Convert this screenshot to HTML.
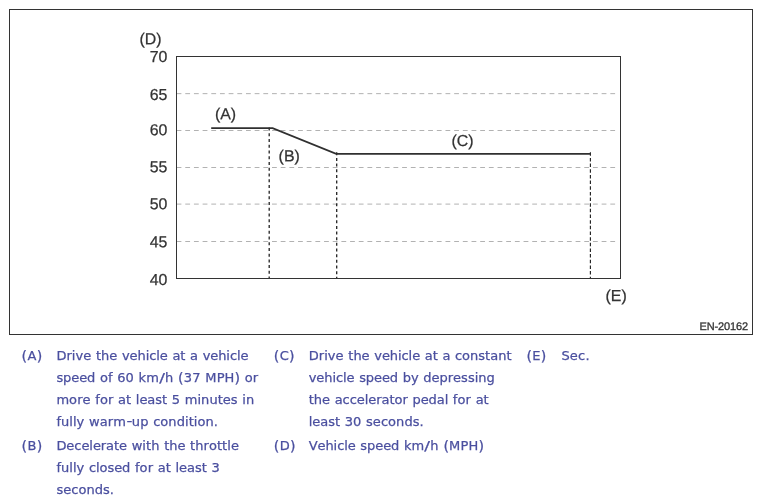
<!DOCTYPE html>
<html lang="en">
<head>
<meta charset="utf-8">
<title>EN-20162</title>
<style>
html,body{margin:0;padding:0;background:#fff;}
body{width:762px;height:503px;position:relative;overflow:hidden;font-family:"Liberation Sans",sans-serif;}
#fig{position:absolute;left:0;top:0;}
.lg{position:absolute;font-family:"DejaVu Sans","Liberation Sans",sans-serif;font-size:13.0px;line-height:22px;color:#4a4f9f;white-space:nowrap;word-spacing:0.482px;-webkit-text-stroke:0.25px #4a4f9f;font-kerning:none;}
.lg i{font-style:normal;font-size:14.2px;line-height:0;position:relative;top:0.7px;}
.lg b{font-weight:normal;display:inline-block;letter-spacing:0;transform:scaleX(1.3);margin:0 0.8px;}
.lg u{text-decoration:none;display:inline-block;letter-spacing:0;transform:translateY(-1px) scaleX(1.25);margin:0 0.6px;}
</style>
</head>
<body>
<svg id="fig" width="762" height="340" viewBox="0 0 762 340" font-family="Liberation Sans, sans-serif" fill="#333">
  <rect x="9.5" y="9.5" width="743" height="325" fill="#fff" stroke="#333" stroke-width="1"/>
  <g stroke="#b2b2b2" stroke-width="1" stroke-dasharray="4.8 3.874" fill="none">
    <path d="M176.6 93.65H616"/>
    <path d="M176.6 130.5H616"/>
    <path d="M176.6 167.5H616"/>
    <path d="M176.6 204.1H616"/>
    <path d="M176.6 241.5H616"/>
  </g>
  <rect x="176.5" y="56.5" width="444" height="222" fill="none" stroke="#333" stroke-width="1"/>
  <g stroke="#222" fill="none">
    <path d="M269.2 127.6V278" stroke-width="1.3" stroke-dasharray="3 2.73"/>
    <path d="M336.7 152.3V278" stroke-width="1.3" stroke-dasharray="3 2.66"/>
    <path d="M590.4 152.3V278" stroke-width="1.15" stroke-dasharray="3.5 2.156"/>
  </g>
  <path d="M211.2 128.15H272.6L336.2 153.8H590.9" fill="none" stroke="#303030" stroke-width="1.65" stroke-linejoin="miter"/>
  <g font-size="15.9px" style="text-rendering:geometricPrecision" stroke="#333" stroke-width="0.25">
    <text transform="translate(139.5 44.3) rotate(.05)">(D)</text>
    <text transform="translate(149.7 62.0) rotate(.05)">70</text>
    <text transform="translate(149.7 100.1) rotate(.05)">65</text>
    <text transform="translate(149.7 135.3) rotate(.05)">60</text>
    <text transform="translate(149.7 172.3) rotate(.05)">55</text>
    <text transform="translate(149.7 209.3) rotate(.05)">50</text>
    <text transform="translate(149.7 247.3) rotate(.05)">45</text>
    <text transform="translate(149.7 285.1) rotate(.05)">40</text>
    <text transform="translate(214.9 119.2) rotate(.05)">(A)</text>
    <text transform="translate(278.6 161.2) rotate(.05)">(B)</text>
    <text transform="translate(451.4 146.1) rotate(.05)">(C)</text>
    <text transform="translate(605.5 301) rotate(.05)">(E)</text>
  </g>
  <text transform="translate(699.5 330) rotate(.05)" font-size="11px" style="text-rendering:geometricPrecision;letter-spacing:-0.12px" stroke="#333" stroke-width="0.3">EN-20162</text>
</svg>

<div class="lg" style="left:21.6px;top:345px"><span style="letter-spacing:0.311px"><i>(</i>A<i>)</i></span></div>
<div class="lg" style="left:56.4px;top:345px"><span style="letter-spacing:0.059px">Drive</span> <span style="letter-spacing:-0.002px">the</span> <span style="letter-spacing:-0.068px">vehicle</span> <span style="letter-spacing:0.001px">at</span> <span style="letter-spacing:-0.071px">a</span> <span style="letter-spacing:-0.068px">vehicle</span><br><span style="letter-spacing:-0.075px">speed</span> <span style="letter-spacing:0.036px">of</span> <span style="letter-spacing:0.087px">60</span> <span style="letter-spacing:0.143px">km<b>/</b>h</span> <span style="letter-spacing:0.199px"><i>(</i>37</span> <span style="letter-spacing:0.119px">MPH<i>)</i></span> <span style="letter-spacing:0.140px">or</span><br><span style="letter-spacing:0.062px">more</span> <span style="letter-spacing:0.114px">for</span> <span style="letter-spacing:0.001px">at</span> <span style="letter-spacing:-0.016px">least</span> <span style="letter-spacing:0.079px">5</span> <span style="letter-spacing:0.040px">minutes</span> <span style="letter-spacing:0.035px">in</span><br><span style="letter-spacing:0.042px">fully</span> <span style="letter-spacing:0.091px">warm<u>-</u>up</span> <span style="letter-spacing:0.058px">condition.</span></div>
<div class="lg" style="left:21.6px;top:435px"><span style="letter-spacing:0.314px"><i>(</i>B<i>)</i></span></div>
<div class="lg" style="left:56.4px;top:435px"><span style="letter-spacing:-0.055px">Decelerate</span> <span style="letter-spacing:0.070px">with</span> <span style="letter-spacing:-0.002px">the</span> <span style="letter-spacing:0.056px">throttle</span><br><span style="letter-spacing:0.042px">fully</span> <span style="letter-spacing:-0.072px">closed</span> <span style="letter-spacing:0.114px">for</span> <span style="letter-spacing:0.001px">at</span> <span style="letter-spacing:-0.016px">least</span> <span style="letter-spacing:0.079px">3</span><br><span style="letter-spacing:0.048px">seconds.</span></div>
<div class="lg" style="left:273.8px;top:345px"><span style="letter-spacing:0.318px"><i>(</i>C<i>)</i></span></div>
<div class="lg" style="left:308.7px;top:345px"><span style="letter-spacing:0.059px">Drive</span> <span style="letter-spacing:-0.002px">the</span> <span style="letter-spacing:-0.068px">vehicle</span> <span style="letter-spacing:0.001px">at</span> <span style="letter-spacing:-0.071px">a</span> <span style="letter-spacing:0.009px">constant</span><br><span style="letter-spacing:-0.068px">vehicle</span> <span style="letter-spacing:-0.075px">speed</span> <span style="letter-spacing:0.011px">by</span> <span style="letter-spacing:-0.001px">depressing</span><br><span style="letter-spacing:-0.002px">the</span> <span style="letter-spacing:-0.038px">accelerator</span> <span style="letter-spacing:-0.074px">pedal</span> <span style="letter-spacing:0.114px">for</span> <span style="letter-spacing:0.001px">at</span><br><span style="letter-spacing:-0.016px">least</span> <span style="letter-spacing:0.087px">30</span> <span style="letter-spacing:0.048px">seconds.</span></div>
<div class="lg" style="left:273.8px;top:435px"><span style="letter-spacing:0.322px"><i>(</i>D<i>)</i></span></div>
<div class="lg" style="left:308.7px;top:435px"><span style="letter-spacing:-0.065px">Vehicle</span> <span style="letter-spacing:-0.075px">speed</span> <span style="letter-spacing:0.143px">km<b>/</b>h</span> <span style="letter-spacing:0.180px"><i>(</i>MPH<i>)</i></span></div>
<div class="lg" style="left:526.4px;top:345px"><span style="letter-spacing:0.315px"><i>(</i>E<i>)</i></span></div>
<div class="lg" style="left:561.4px;top:345px"><span style="letter-spacing:0.232px">Sec.</span></div>
</body>
</html>
